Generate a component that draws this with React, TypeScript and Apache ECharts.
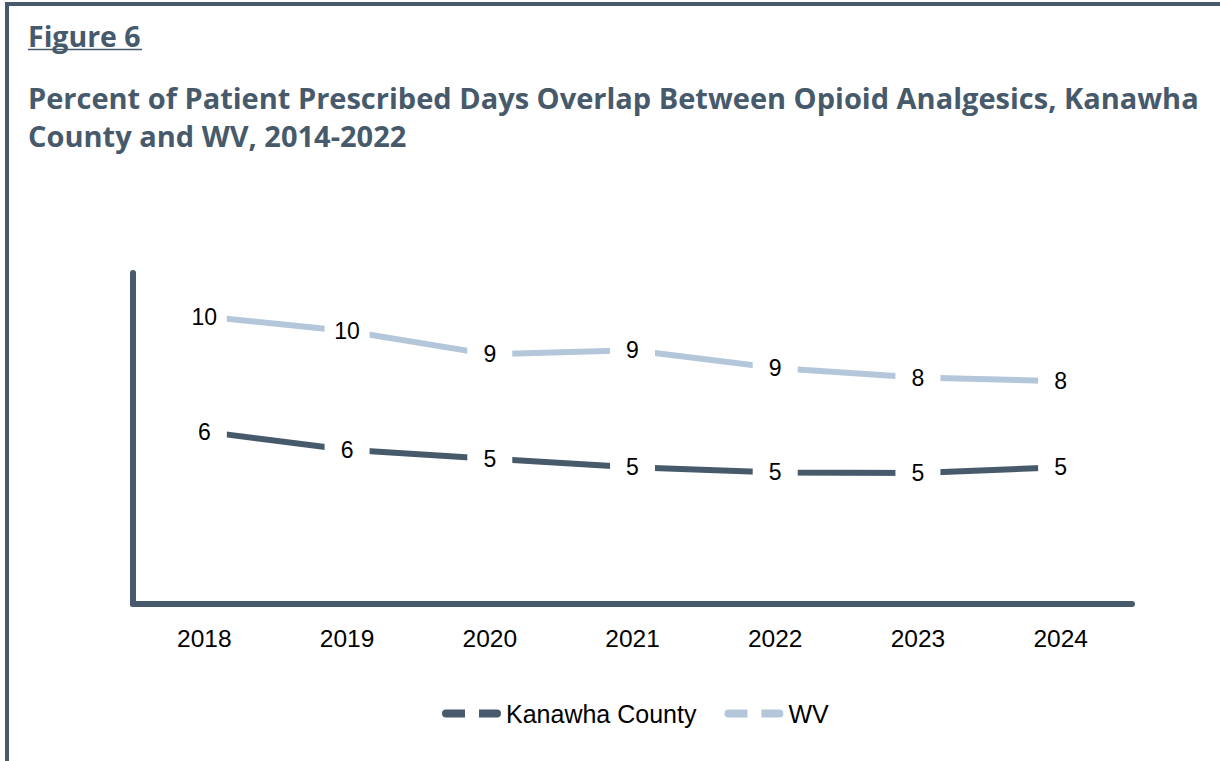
import React, { useEffect, useRef } from "react";
import * as echarts from "echarts";

const years = ["2018", "2019", "2020", "2021", "2022", "2023", "2024"];
const kanawha = [6.25, 5.59, 5.27, 4.96, 4.77, 4.75, 4.96];
const wv = [10.42, 9.9, 9.05, 9.2, 8.56, 8.21, 8.08];
const seriesNames = ["Kanawha County", "WV"];
const figureLabel = "Figure 6";
const titleText =
  "Percent of Patient Prescribed Days Overlap Between Opioid Analgesics, Kanawha\nCounty and WV, 2014-2022";

const DARK = "#475a6c";
const LIGHT = "#b4c7da";
const LEGEND_ICON =
  "path://M4,0 L23,0 L23,8 L4,8 A4,4 0 0 1 4,0 Z M37,0 L55,0 A4,4 0 0 1 55,8 L37,8 Z";

export default function App() {
  const ref = useRef<HTMLDivElement>(null);
  useEffect(() => {
    if (!ref.current) return;
    const chart = echarts.init(ref.current, null, { renderer: "svg" });
    const labelCfg = {
      show: true,
      position: "inside",
      formatter: (p: any) => String(Math.round(p.value)),
      color: "#000",
      fontFamily: "'Liberation Sans', Arial, sans-serif",
      fontSize: 23,
      backgroundColor: "#fff",
      width: 45,
      height: 26,
      lineHeight: 26,
      align: "center",
      verticalAlign: "middle",
      padding: 0,
    };
    chart.setOption({
      animation: false,
      backgroundColor: "#fff",
      title: [
        {
          text: figureLabel,
          left: 28,
          top: 19,
          padding: 0,
          textStyle: {
            fontFamily: "'Open Sans', Inter, sans-serif",
            fontWeight: "bold",
            fontSize: 28.5,
            lineHeight: 34,
            color: DARK,
          },
        },
        {
          text: titleText,
          left: 28,
          top: 78,
          padding: 0,
          textStyle: {
            fontFamily: "'Open Sans', Inter, sans-serif",
            fontWeight: "bold",
            fontSize: 29,
            lineHeight: 38,
            color: DARK,
          },
        },
      ],
      graphic: [
        { type: "line", shape: { x1: 5, y1: 4, x2: 1220, y2: 4 }, style: { stroke: DARK, lineWidth: 4 } },
        { type: "line", shape: { x1: 7, y1: 2, x2: 7, y2: 761 }, style: { stroke: DARK, lineWidth: 4 } },
        { type: "line", shape: { x1: 28, y1: 49.5, x2: 142, y2: 49.5 }, style: { stroke: DARK, lineWidth: 1.5 } },
      ],
      legend: {
        left: 437,
        top: 696,
        itemWidth: 59,
        itemHeight: 8,
        itemGap: 28,
        icon: LEGEND_ICON,
        textStyle: {
          fontFamily: "'Liberation Sans', Arial, sans-serif",
          fontSize: 25,
          color: "#000",
        },
        data: [
          { name: seriesNames[0], itemStyle: { color: DARK } },
          { name: seriesNames[1], itemStyle: { color: LIGHT } },
        ],
      },
      grid: { left: 133, right: 88, top: 273, bottom: 157, containLabel: false },
      xAxis: {
        type: "category",
        data: years,
        boundaryGap: true,
        axisLine: { show: true, lineStyle: { color: DARK, width: 6 } },
        axisTick: { show: false },
        axisLabel: {
          margin: 22,
          color: "#000",
          fontFamily: "'Liberation Sans', Arial, sans-serif",
          fontSize: 24.5,
        },
      },
      yAxis: {
        type: "value",
        min: 0,
        max: 12,
        interval: 2,
        axisLine: { show: true, lineStyle: { color: DARK, width: 6 } },
        axisTick: { show: false },
        axisLabel: { show: false },
        splitLine: { show: false },
      },
      series: [
        {
          name: seriesNames[0],
          type: "line",
          data: kanawha,
          symbol: "circle",
          symbolSize: 0,
          lineStyle: { color: DARK, width: 6, cap: "butt" },
          itemStyle: { color: DARK },
          label: labelCfg,
        },
        {
          name: seriesNames[1],
          type: "line",
          data: wv,
          symbol: "circle",
          symbolSize: 0,
          lineStyle: { color: LIGHT, width: 6, cap: "butt" },
          itemStyle: { color: LIGHT },
          label: labelCfg,
        },
      ],
    });
    return () => chart.dispose();
  }, []);
  return (
    <div
      ref={ref}
      style={{ position: "fixed", left: 0, top: 0, width: 1220, height: 761 }}
    />
  );
}
